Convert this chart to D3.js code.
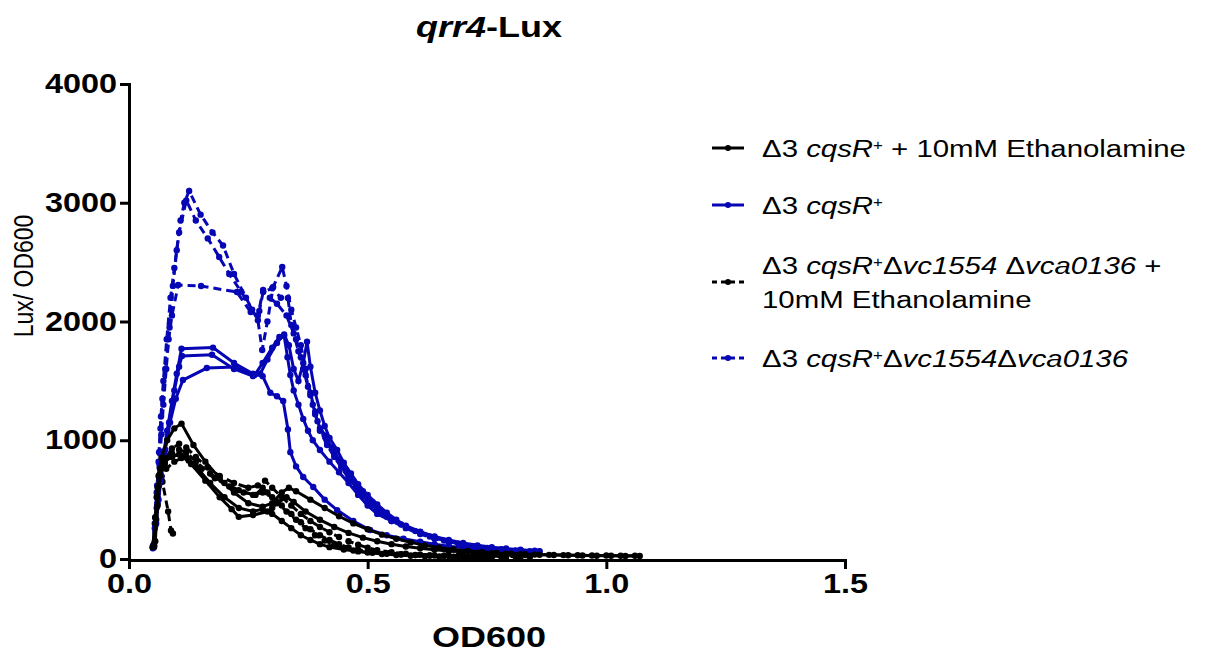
<!DOCTYPE html>
<html>
<head>
<meta charset="utf-8">
<title>qrr4-Lux</title>
<script src="https://d3js.org/d3.v7.min.js"></script>
<style>
body { margin: 0; background: #fff; }
text { font-family: "Liberation Sans", Arial, sans-serif; }
</style>
</head>
<body>
<div id="chart"></div>
<script>
var width = 1222,
    height = 653;

// replicate curves, [OD600, Lux/OD600]
var etaRep1 = [[0.052,120],[0.055,300],[0.058,520],[0.062,700],[0.068,850],[0.08,1000],[0.095,1100],[0.11,1140],[0.135,960],[0.16,820],[0.19,680],[0.22,560],[0.25,470],[0.28,440],[0.30,470],[0.32,560],[0.335,600],[0.35,570],[0.38,500],[0.41,430],[0.44,360],[0.47,300],[0.50,250],[0.53,205],[0.56,170],[0.59,140],[0.62,115],[0.65,95],[0.68,80],[0.71,68],[0.74,58],[0.77,50],[0.80,44],[0.83,40],[0.86,36],[0.89,34],[0.92,32],[0.95,30],[0.98,28],[1.01,27],[1.04,26],[1.07,25]];
var etaRep2 = [[0.05,100],[0.055,350],[0.06,600],[0.065,760],[0.075,850],[0.09,880],[0.11,870],[0.13,800],[0.16,660],[0.19,520],[0.215,420],[0.23,355],[0.26,370],[0.29,400],[0.30,430],[0.31,470],[0.33,520],[0.345,480],[0.37,400],[0.40,330],[0.43,270],[0.46,220],[0.49,180],[0.52,150],[0.55,125],[0.58,105],[0.61,90],[0.64,78],[0.67,68],[0.70,60],[0.73,54],[0.76,48],[0.79,44],[0.82,40],[0.85,37],[0.88,35],[0.91,33],[0.94,31],[0.97,30],[1.00,29],[1.03,28],[1.06,27]];
var etaRep3 = [[0.055,150],[0.06,450],[0.065,700],[0.075,820],[0.09,860],[0.105,880],[0.12,860],[0.14,780],[0.17,640],[0.20,520],[0.23,430],[0.26,400],[0.28,420],[0.30,380],[0.32,320],[0.34,260],[0.36,200],[0.38,160],[0.40,125],[0.42,100],[0.45,80],[0.48,64],[0.51,52],[0.54,44],[0.57,38],[0.60,33],[0.63,30],[0.66,28],[0.69,26],[0.72,25],[0.75,24],[0.78,23]];

var wtRep1 = [[0.05,100],[0.054,260],[0.058,430],[0.063,620],[0.07,830],[0.08,1080],[0.09,1330],[0.10,1560],[0.11,1770],[0.176,1780],[0.22,1650],[0.26,1560],[0.28,1540],[0.296,1400],[0.31,1370],[0.323,1330],[0.333,1090],[0.338,900],[0.35,780],[0.365,690],[0.386,606],[0.41,500],[0.436,412],[0.47,320],[0.505,244],[0.54,200],[0.575,170],[0.61,145],[0.64,125],[0.67,108],[0.70,95],[0.73,84],[0.76,75]];
var wtRep2 = [[0.05,90],[0.055,280],[0.06,470],[0.066,660],[0.074,880],[0.084,1150],[0.095,1420],[0.105,1620],[0.111,1710],[0.174,1720],[0.22,1600],[0.26,1540],[0.275,1560],[0.29,1680],[0.31,1820],[0.325,1890],[0.335,1800],[0.345,1600],[0.355,1500],[0.365,1650],[0.373,1830],[0.38,1620],[0.39,1400],[0.40,1250],[0.41,1120],[0.42,1020],[0.436,918],[0.45,810],[0.465,720],[0.48,630],[0.50,540],[0.52,460],[0.54,390],[0.56,330],[0.58,280],[0.61,230],[0.64,190],[0.67,160],[0.70,135],[0.73,115],[0.76,100],[0.79,88],[0.82,78],[0.85,70]];
var wtRep3 = [[0.052,120],[0.057,300],[0.062,500],[0.068,700],[0.076,920],[0.086,1150],[0.098,1350],[0.113,1507],[0.163,1608],[0.222,1617],[0.263,1549],[0.28,1650],[0.30,1780],[0.315,1870],[0.325,1880],[0.332,1700],[0.338,1550],[0.345,1420],[0.355,1300],[0.365,1180],[0.375,1080],[0.385,1000],[0.40,918],[0.42,820],[0.44,730],[0.46,640],[0.48,540],[0.50,450],[0.52,380],[0.55,320],[0.58,270],[0.61,225],[0.64,185],[0.67,150],[0.70,125],[0.73,105],[0.76,92],[0.79,82],[0.82,74],[0.86,65]];

var dblEtaRep1 = [[0.053,110],[0.057,330],[0.06,560],[0.065,720],[0.075,840],[0.09,930],[0.105,970],[0.12,940],[0.14,860],[0.165,770],[0.19,700],[0.22,640],[0.25,600],[0.27,620],[0.285,660],[0.30,600],[0.32,520],[0.34,450],[0.36,380],[0.38,320],[0.40,270],[0.42,225],[0.44,185],[0.46,150],[0.48,120],[0.50,95],[0.52,75],[0.55,58],[0.58,45],[0.61,36],[0.64,30],[0.67,26],[0.70,22],[0.73,20],[0.76,18],[0.79,17],[0.82,16]];
var dblEtaRep2 = [[0.052,100],[0.056,300],[0.06,520],[0.066,660],[0.078,760],[0.095,820],[0.11,850],[0.125,830],[0.15,760],[0.18,680],[0.21,610],[0.24,560],[0.265,540],[0.28,600],[0.29,560],[0.31,480],[0.33,400],[0.35,330],[0.37,260],[0.39,200],[0.41,155],[0.43,120],[0.45,92],[0.47,72],[0.50,55],[0.53,42],[0.56,34],[0.59,28],[0.62,24],[0.65,21],[0.68,19],[0.71,17],[0.74,16]];
var dblEtaRep3 = [[0.092,215],[0.088,240],[0.082,400],[0.07,650],[0.075,800],[0.09,890],[0.105,920],[0.12,900],[0.14,820],[0.17,720],[0.20,640],[0.23,580],[0.26,540],[0.28,560],[0.30,520],[0.32,450],[0.34,380],[0.36,310],[0.38,250],[0.40,200],[0.42,160],[0.44,125],[0.46,98],[0.48,78],[0.51,60],[0.54,48],[0.57,40],[0.60,34],[0.63,30],[0.66,27],[0.69,25],[0.72,23],[0.75,22],[0.78,21],[0.81,20],[0.84,19]];

var dblRep1 = [[0.052,100],[0.056,300],[0.06,560],[0.064,800],[0.068,1050],[0.072,1300],[0.078,1600],[0.085,1950],[0.092,2300],[0.10,2600],[0.108,2850],[0.116,3000],[0.126,3100],[0.15,2900],[0.175,2750],[0.197,2640],[0.22,2400],[0.245,2200],[0.27,2010],[0.279,1760],[0.29,2000],[0.302,2290],[0.321,2459],[0.33,2300],[0.34,2100],[0.35,1950],[0.36,1800],[0.37,1600],[0.38,1400],[0.39,1240],[0.40,1100],[0.415,980],[0.43,880],[0.445,780],[0.46,690],[0.475,610],[0.49,530],[0.51,450],[0.53,380],[0.55,320],[0.58,260],[0.61,210],[0.64,170],[0.67,140],[0.70,115],[0.73,98],[0.76,85],[0.79,75],[0.82,68]];
var dblRep2 = [[0.05,110],[0.055,350],[0.059,620],[0.063,900],[0.067,1200],[0.072,1500],[0.079,1850],[0.087,2200],[0.095,2450],[0.105,2750],[0.12,3020],[0.14,2850],[0.165,2700],[0.189,2543],[0.21,2400],[0.235,2250],[0.258,2100],[0.273,2088],[0.281,2248],[0.30,2280],[0.318,2200],[0.333,2198],[0.34,1970],[0.35,1850],[0.36,1700],[0.37,1550],[0.38,1380],[0.39,1220],[0.40,1080],[0.415,960],[0.43,860],[0.445,770],[0.46,680],[0.48,590],[0.50,500],[0.52,420],[0.54,355],[0.57,290],[0.60,235],[0.63,190],[0.66,155],[0.69,128],[0.72,108],[0.75,93],[0.78,82],[0.81,73],[0.84,66]];
var dblRep3 = [[0.05,100],[0.054,300],[0.058,560],[0.062,820],[0.066,1100],[0.07,1350],[0.076,1600],[0.083,1850],[0.09,2050],[0.103,2307],[0.151,2299],[0.226,2248],[0.255,2080],[0.27,2050],[0.281,2265],[0.295,2200],[0.31,2150],[0.33,2050],[0.345,1900],[0.355,1750],[0.365,1600],[0.375,1450],[0.385,1300],[0.395,1160],[0.41,1040],[0.425,940],[0.44,840],[0.455,750],[0.47,660],[0.49,570],[0.51,480],[0.53,400],[0.55,335],[0.58,275],[0.61,225],[0.64,180],[0.67,148],[0.70,122],[0.73,103],[0.76,90],[0.79,80],[0.82,72],[0.86,64]];

var xTicks = [0, 0.5, 1.0, 1.5];
var yTicks = [0, 1000, 2000, 3000, 4000];

var blue = "#0606b4",
    black = "#000";

var series = [
  { reps: [etaRep1, etaRep2, etaRep3], color: black, dash: null },
  { reps: [wtRep1, wtRep2, wtRep3], color: blue, dash: null },
  { reps: [dblEtaRep1, dblEtaRep2, dblEtaRep3], color: black, dash: "8,5" },
  { reps: [dblRep1, dblRep2, dblRep3], color: blue, dash: "8,5" }
];

var stretch = "scale(1.2,1)";

var svg = d3.select("#chart")
    .append("svg")
    .attr("width", width)
    .attr("height", height);

var x = d3.scaleLinear().domain([0, 1.5]).range([129, 845]);
var y = d3.scaleLinear().domain([0, 4000]).range([559, 84]);

var line = d3.line()
    .x(d => x(d[0]))
    .y(d => y(d[1]));

// draw last legend entry first so black sits on top
series.slice().reverse().forEach(function(s) {
  var g = svg.append("g");
  s.reps.forEach(function(rep) {
    g.append("path")
      .datum(rep)
      .attr("d", line)
      .attr("fill", "none")
      .attr("stroke", s.color)
      .attr("stroke-width", 3)
      .attr("stroke-dasharray", s.dash);
    g.selectAll(null)
      .data(rep)
      .enter()
      .append("circle")
      .attr("cx", d => x(d[0]))
      .attr("cy", d => y(d[1]))
      .attr("r", 3.2)
      .attr("fill", s.color);
  });
});

// axes
var xAxis = d3.axisBottom(x)
    .tickValues(xTicks)
    .tickFormat(d3.format(".1f"))
    .tickSize(9)
    .tickPadding(5);

var yAxis = d3.axisLeft(y)
    .tickValues(yTicks)
    .tickFormat(d3.format("d"))
    .tickSize(9)
    .tickPadding(3);

var gX = svg.append("g")
    .attr("transform", "translate(0,560)")
    .call(xAxis);

var gY = svg.append("g")
    .attr("transform", "translate(129,0)")
    .call(yAxis);

[gX, gY].forEach(function(g) {
  g.select(".domain").attr("stroke-width", 3);
  g.selectAll(".tick line").attr("stroke-width", 3);
  g.selectAll(".tick text")
    .style("font-family", "'Liberation Sans', Arial, sans-serif")
    .style("font-weight", "bold")
    .style("font-size", "27px")
    .attr("fill", "#000");
});

gY.selectAll(".tick text").each(function() {
  var t = d3.select(this);
  var tx = +t.attr("x");
  t.attr("x", 0).attr("transform", "translate(" + tx + ",0) " + stretch);
});
gX.selectAll(".tick text").attr("transform", stretch);

// titles
svg.append("text")
    .attr("transform", "translate(489,37) " + stretch)
    .attr("text-anchor", "middle")
    .style("font-size", "30px")
    .style("font-weight", "bold")
    .call(function(t) {
      t.append("tspan").style("font-style", "italic").text("qrr4");
      t.append("tspan").text("-Lux");
    });

svg.append("text")
    .attr("transform", "translate(489,647) " + stretch)
    .attr("text-anchor", "middle")
    .style("font-size", "30px")
    .style("font-weight", "bold")
    .text("OD600");

svg.append("text")
    .attr("transform", "translate(33,276) " + stretch + " rotate(-90)")
    .attr("text-anchor", "middle")
    .style("font-size", "23px")
    .text("Lux/ OD600");

// legend
var legendRows = [
  { y: 148, lines: [[["Δ3 ", 0], ["cqsR", 1], ["+", 2], [" + 10mM Ethanolamine", 0]]] },
  { y: 205, lines: [[["Δ3 ", 0], ["cqsR", 1], ["+", 2]]] },
  { y: 282, lines: [[["Δ3 ", 0], ["cqsR", 1], ["+", 2], ["Δ", 0], ["vc1554", 1], [" Δ", 0], ["vca0136", 1], [" +", 0]],
                    [["10mM Ethanolamine", 0]]] },
  { y: 358, lines: [[["Δ3 ", 0], ["cqsR", 1], ["+", 2], ["Δ", 0], ["vc1554", 1], ["Δ", 0], ["vca0136", 1]]] }
];

var legend = svg.append("g");

legendRows.forEach(function(row, i) {
  var s = series[i];
  var g = legend.append("g").attr("transform", "translate(0," + row.y + ")");
  g.append("line")
    .attr("x1", 712).attr("x2", 744)
    .attr("stroke", s.color)
    .attr("stroke-width", 3)
    .attr("stroke-dasharray", s.dash ? "5,4" : null);
  g.append("circle")
    .attr("cx", 728)
    .attr("r", 3)
    .attr("fill", s.color);

  var n = row.lines.length;
  row.lines.forEach(function(parts, li) {
    var by = 9 + (li - (n - 1) / 2) * 34;
    var t = g.append("text")
      .attr("transform", "translate(762," + by + ") " + stretch)
      .style("font-size", "24.5px")
      .attr("fill", "#000");
    parts.forEach(function(p) {
      var ts = t.append("tspan").text(p[0]);
      if (p[1] === 1) ts.style("font-style", "italic");
      if (p[1] === 2) ts.style("font-size", "14px").attr("baseline-shift", "super");
    });
  });
});
</script>
</body>
</html>
